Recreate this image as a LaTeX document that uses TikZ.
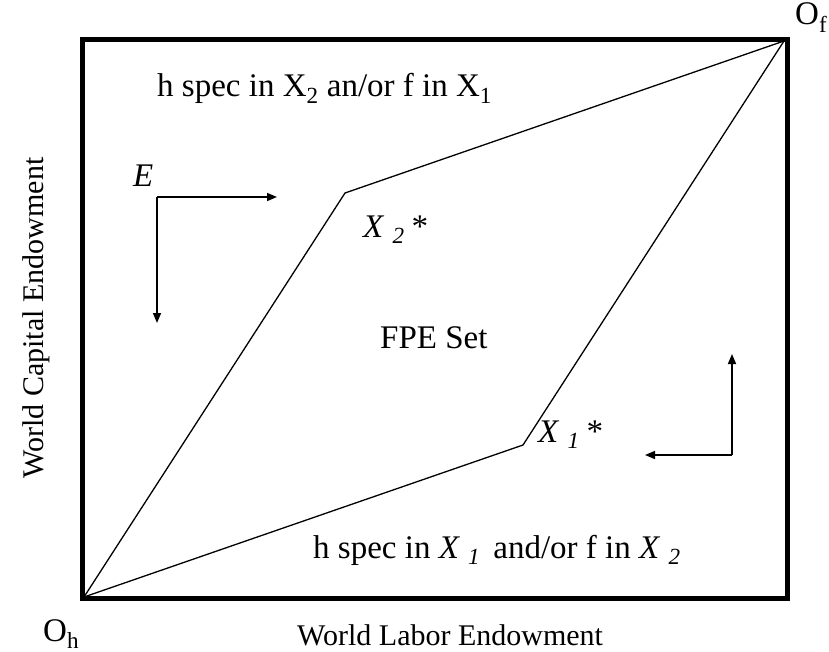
\documentclass[tikz,border=0pt]{standalone}
\usepackage{fontspec}
\setmainfont{Liberation Serif}
\usetikzlibrary{arrows.meta,positioning}
\tikzset{
  frame line/.style={line width=5pt, line join=miter},
  cone line/.style={line width=1.3pt},
  shift arrow/.style={-{Triangle[length=10pt,width=8pt]}, line width=1.6pt},
  plain label/.style={font=\fontsize{33}{38}\selectfont, inner sep=0pt, text=black},
  axis label/.style={font=\fontsize{30}{34}\selectfont, inner sep=0pt, text=black},
}
\newcommand{\subgap}{\hspace{0.28em}}

\begin{document}
\begin{tikzpicture}[x=1pt, y=-1pt]
  \useasboundingbox (0,0) rectangle (829,652);

  % Endowment box, home origin bottom left, foreign origin top right.
  \draw[frame line] (82.5,39.5) rectangle (787.5,598.5);
  \coordinate (Oh) at (84,597);
  \coordinate (Of) at (784,41);
  \coordinate (X2) at (345,193);
  \coordinate (X1) at (523,445);

  % FPE parallelogram.
  \draw[cone line] (Oh) -- (X2) -- (Of);
  \draw[cone line] (Oh) -- (X1) -- (Of);

  % Shifts of the endowment point.
  \coordinate (Ecorner) at (157,197);
  \coordinate (Eright) at (277,197);
  \coordinate (Edown) at (157,323);
  \coordinate (Fcorner) at (732,455);
  \coordinate (Fup) at (732,354);
  \coordinate (Fleft) at (645,455);
  \draw[shift arrow] (Ecorner) -- (Eright);
  \draw[shift arrow] (Ecorner) -- (Edown);
  \draw[shift arrow] (Fcorner) -- (Fup);
  \draw[shift arrow] (Fcorner) -- (Fleft);

  % Labels.
  \node[plain label, anchor=base west] (specTop) at (157,97)
    {h spec in X\textsubscript{2} an/or f in X\textsubscript{1}};
  \node[plain label, anchor=base west] (Elabel) at (133,187) {\textit{E}};
  \node[plain label, anchor=base west] (X2star) at (363,237) {\textit{X\subgap\textsubscript{2}\,*}};
  \node[plain label, anchor=base west] (fpe) at (380,348) {FPE Set};
  \node[plain label, anchor=base west] (X1star) at (538,442) {\textit{X\subgap\textsubscript{1}\,*}};
  \node[plain label, anchor=base west] (specBottom) at (313,558)
    {h spec in \textit{X\subgap\textsubscript{1}}\hspace{0.4em}and/or f in \textit{X\subgap\textsubscript{2}}};
  \node[plain label, anchor=base west] (OhLabel) at (43,641) {O\textsubscript{h}};
  \node[plain label, anchor=base west] (OfLabel) at (795,25) {O\textsubscript{f}};
  \node[axis label, anchor=base west] (laborAxis) at (297,645) {World Labor Endowment};
  \node[axis label, rotate=90] (capitalAxis) at (36,318) {World Capital Endowment};
\end{tikzpicture}
\end{document}
